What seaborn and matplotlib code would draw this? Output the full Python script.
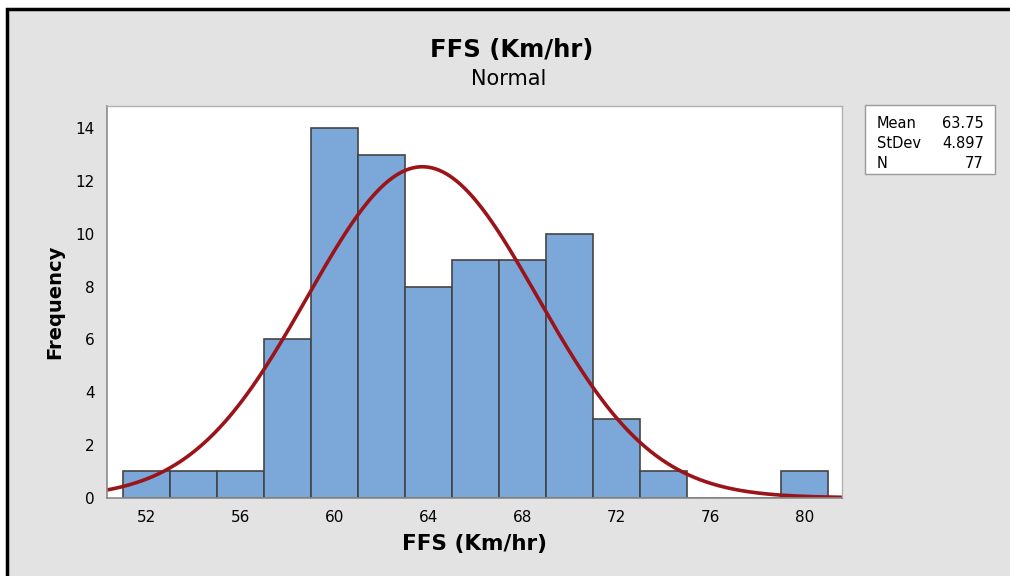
import numpy as np
import pandas as pd
import matplotlib
matplotlib.use("Agg")
import matplotlib.pyplot as plt
import seaborn as sns
from matplotlib.patches import Rectangle

# Data
bin_edges = [51, 53, 55, 57, 59, 61, 63, 65, 67, 69, 71, 73, 75, 77, 79, 81]
counts = [1, 1, 1, 6, 14, 13, 8, 9, 9, 10, 3, 1, 0, 0, 1]
x_ticks = [52, 56, 60, 64, 68, 72, 76, 80]
y_ticks = [0, 2, 4, 6, 8, 10, 12, 14]
mean_val = 63.75
sd_val = 4.897
n_val = 77
title = "FFS (Km/hr)"
subtitle = "Normal"
xlabel = "FFS (Km/hr)"
ylabel = "Frequency"

sns.set_theme(style="white")
plt.rcParams['font.family'] = ['DejaVu Sans']
plt.rcParams['text.color'] = 'black'
plt.rcParams['axes.labelcolor'] = 'black'

bg = "#e3e3e3"
fig = plt.figure(figsize=(10.1, 5.76), dpi=100, facecolor="white")
# gray panel with black border
fig.patches.append(Rectangle((7/1010, -0.1), 1.1, 1 - 9/576 + 0.1, transform=fig.transFigure,
                             facecolor=bg, edgecolor="black", linewidth=2.5, zorder=-10))

ax = fig.add_axes([107.3/1010, 1 - 497.7/576, (842.3 - 107.3)/1010, (497.7 - 105.7)/576])
ax.set_facecolor("white")

centers = [(bin_edges[i] + bin_edges[i+1]) / 2 for i in range(len(counts))]
df = pd.DataFrame({"x": centers, "w": counts})
sns.histplot(data=df, x="x", weights="w", bins=bin_edges, ax=ax,
             color="#7ba7d9", edgecolor="#444444", linewidth=1.2, alpha=1.0)

xs = np.linspace(50.34, 81.62, 400)
binw = bin_edges[1] - bin_edges[0]
ys = n_val * binw / (sd_val * np.sqrt(2 * np.pi)) * np.exp(-0.5 * ((xs - mean_val) / sd_val) ** 2)
sns.lineplot(x=xs, y=ys, ax=ax, color="#9b1419", linewidth=2.6)

ax.set_xlim(50.34, 81.62)
ax.set_ylim(0, 14.86)
ax.set_xticks(x_ticks)
ax.set_yticks(y_ticks)
ax.tick_params(axis="both", which="both", direction="out", length=5, width=1,
               color="#8a8a8a", labelsize=11, labelcolor="black", pad=4)
for s in ["left", "bottom"]:
    ax.spines[s].set_color("#8a8a8a")
    ax.spines[s].set_linewidth(1.2)
for s in ["top", "right"]:
    ax.spines[s].set_color("#b0b0b0")
    ax.spines[s].set_linewidth(1.0)

ax.set_xlabel(xlabel, fontsize=15.5, fontweight="bold", labelpad=6)
ax.set_ylabel(ylabel, fontsize=14, fontweight="bold", labelpad=8)

fig.text(512/1010, 1 - 56.7/576, title, ha="center", va="baseline", fontsize=17.5, fontweight="bold")
fig.text(509/1010, 1 - 85/576, subtitle, ha="center", va="baseline", fontsize=15)

# statistics box
bx0, by0, bx1, by1 = 865, 105, 995, 174
fig.patches.append(Rectangle((bx0/1010, 1 - by1/576), (bx1 - bx0)/1010, (by1 - by0)/576,
                             transform=fig.transFigure, facecolor="white",
                             edgecolor="#9a9a9a", linewidth=1.0, zorder=5))
rows = [("Mean", f"{mean_val:.2f}"), ("StDev", f"{sd_val:.3f}"), ("N", f"{n_val}")]
for i, (k, v) in enumerate(rows):
    yy = 1 - (124 + i * 19.5) / 576
    fig.text(877/1010, yy, k, ha="left", va="center", fontsize=10.5, zorder=6)
    fig.text(984/1010, yy, v, ha="right", va="center", fontsize=10.5, zorder=6)

fig.savefig("out.png", dpi=100, facecolor=fig.get_facecolor())
